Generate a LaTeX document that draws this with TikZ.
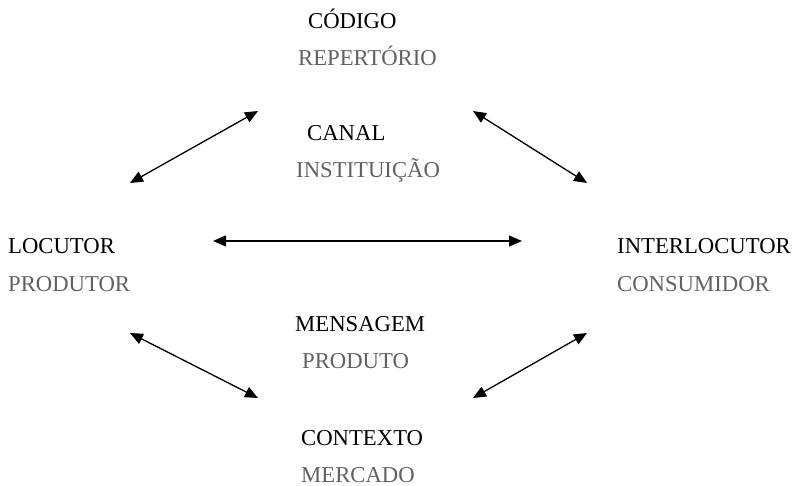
\documentclass[tikz,border=0pt]{standalone}
\usepackage{fontspec}
\setmainfont{Liberation Serif}
\usetikzlibrary{arrows.meta}
\definecolor{txtgray}{gray}{0.38}
\begin{document}
\begin{tikzpicture}[x=1pt,y=-1pt,
  lbl/.style={anchor=base west,inner sep=0pt,font=\fontsize{22.7}{26}\selectfont},
  main/.style={lbl,text=black},
  sub/.style={lbl,text=txtgray},
  dbl/.style={{Triangle[length=13pt,width=11pt]}-{Triangle[length=13pt,width=11pt]},line width=1.3pt}]
\useasboundingbox (0,0) rectangle (796,486);
\node[main] (codigo) at (308,28.5) {CÓDIGO};
\node[sub] (repert) at (298,65.5) {REPERTÓRIO};
\node[main] (canal) at (307,140.5) {CANAL};
\node[sub] (instit) at (296,177.5) {INSTITUIÇÃO};
\node[main] (locutor) at (8,253.5) {LOCUTOR};
\node[sub] (produtor) at (8,291.5) {PRODUTOR};
\node[main] (interl) at (617,253.5) {INTERLOCUTOR};
\node[sub] (consum) at (617,291.5) {CONSUMIDOR};
\node[main] (mens) at (295,331.5) {MENSAGEM};
\node[sub] (produto) at (302,368.5) {PRODUTO};
\node[main] (contexto) at (301,445.5) {CONTEXTO};
\node[sub] (mercado) at (301,482.5) {MERCADO};
\coordinate (a1) at (130,183); \coordinate (a2) at (258,111);
\coordinate (b1) at (473,111); \coordinate (b2) at (587,183);
\coordinate (c1) at (213,241); \coordinate (c2) at (522,241);
\coordinate (d1) at (130,333); \coordinate (d2) at (258,398);
\coordinate (e1) at (473,398); \coordinate (e2) at (587,333);
\draw[dbl] (a1) -- (a2);
\draw[dbl] (b1) -- (b2);
\draw[dbl] (c1) -- (c2);
\draw[dbl] (d1) -- (d2);
\draw[dbl] (e1) -- (e2);
\end{tikzpicture}
\end{document}
